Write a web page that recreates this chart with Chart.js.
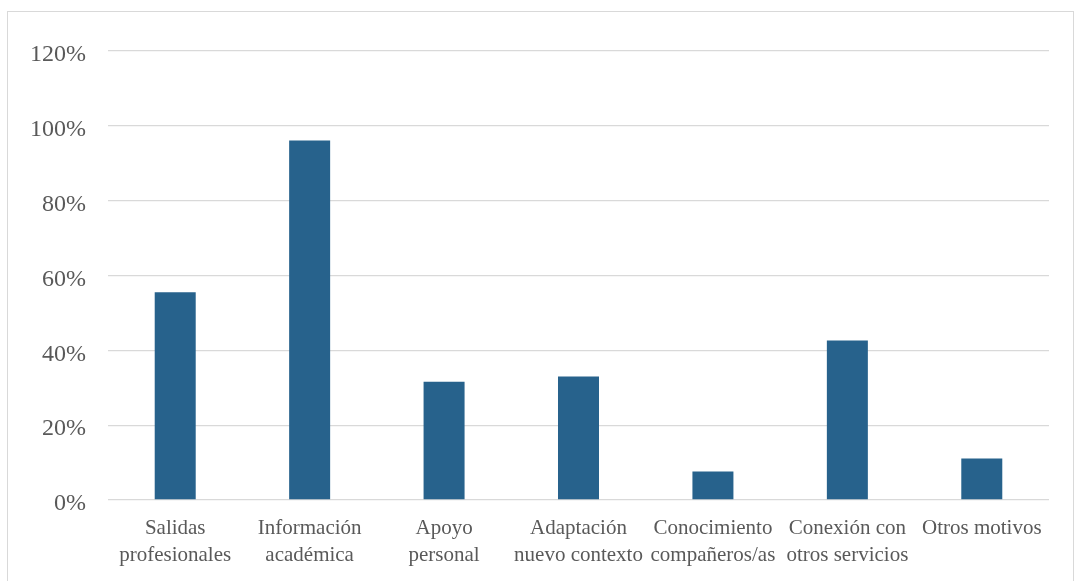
<!DOCTYPE html>
<html>
<head>
<meta charset="utf-8">
<script src="https://cdn.jsdelivr.net/npm/chart.js@4.4.1/dist/chart.umd.min.js"></script>
<style>
  html, body { margin: 0; padding: 0; background: #fff; overflow: hidden; }
  #frame {
    position: absolute; left: 7px; top: 11px;
    width: 1065px; height: 620px;
    border: 1px solid #d9d9d9;
  }
  #chart { position: absolute; left: 0; top: 0; }
</style>
</head>
<body>
<div id="frame"></div>
<canvas id="chart" width="1076" height="581"></canvas>
<script>
// motivos de consulta (porcentaje de respuestas)
const categories = [
  ['Salidas', 'profesionales'],
  ['Información', 'académica'],
  ['Apoyo', 'personal'],
  ['Adaptación', 'nuevo contexto'],
  ['Conocimiento', 'compañeros/as'],
  ['Conexión con', 'otros servicios'],
  ['Otros motivos']
];
const values = [55.5, 96.1, 31.6, 33.0, 7.6, 42.6, 11.1];
const yTicks = [0, 20, 40, 60, 80, 100, 120];

const serif = '"Liberation Serif", "Times New Roman", serif';
const textColor = '#595959';

const ctx = document.getElementById('chart');
const myChart = new Chart(ctx, {
  type: 'bar',
  data: {
    labels: categories,
    datasets: [{
      data: values,
      backgroundColor: '#27628c',
      borderWidth: 0,
      categoryPercentage: 1,
      barPercentage: 0.305
    }]
  },
  options: {
    responsive: false,
    animation: false,
    layout: { padding: { top: 51, right: 27, bottom: 0, left: 0 } },
    plugins: {
      legend: { display: false },
      tooltip: { enabled: false }
    },
    scales: {
      x: {
        grid: { display: false },
        border: { display: false },
        ticks: {
          color: textColor,
          font: { family: serif, size: 21, lineHeight: 1.28 },
          padding: 7,
          maxRotation: 0,
          autoSkip: false
        },
        afterFit: (scale) => { scale.height = 81; }
      },
      y: {
        min: 0,
        max: 120,
        afterBuildTicks: (scale) => { scale.ticks = yTicks.map(v => ({ value: v })); },
        grid: { color: '#d9d9d9', lineWidth: 1.3, drawTicks: false },
        border: { display: false },
        ticks: {
          color: textColor,
          font: { family: serif, size: 24 },
          padding: 22,
          labelOffset: 4,
          callback: (v) => v + '%'
        },
        afterFit: (scale) => { scale.width = 108; }
      }
    }
  }
});
</script>
</body>
</html>
